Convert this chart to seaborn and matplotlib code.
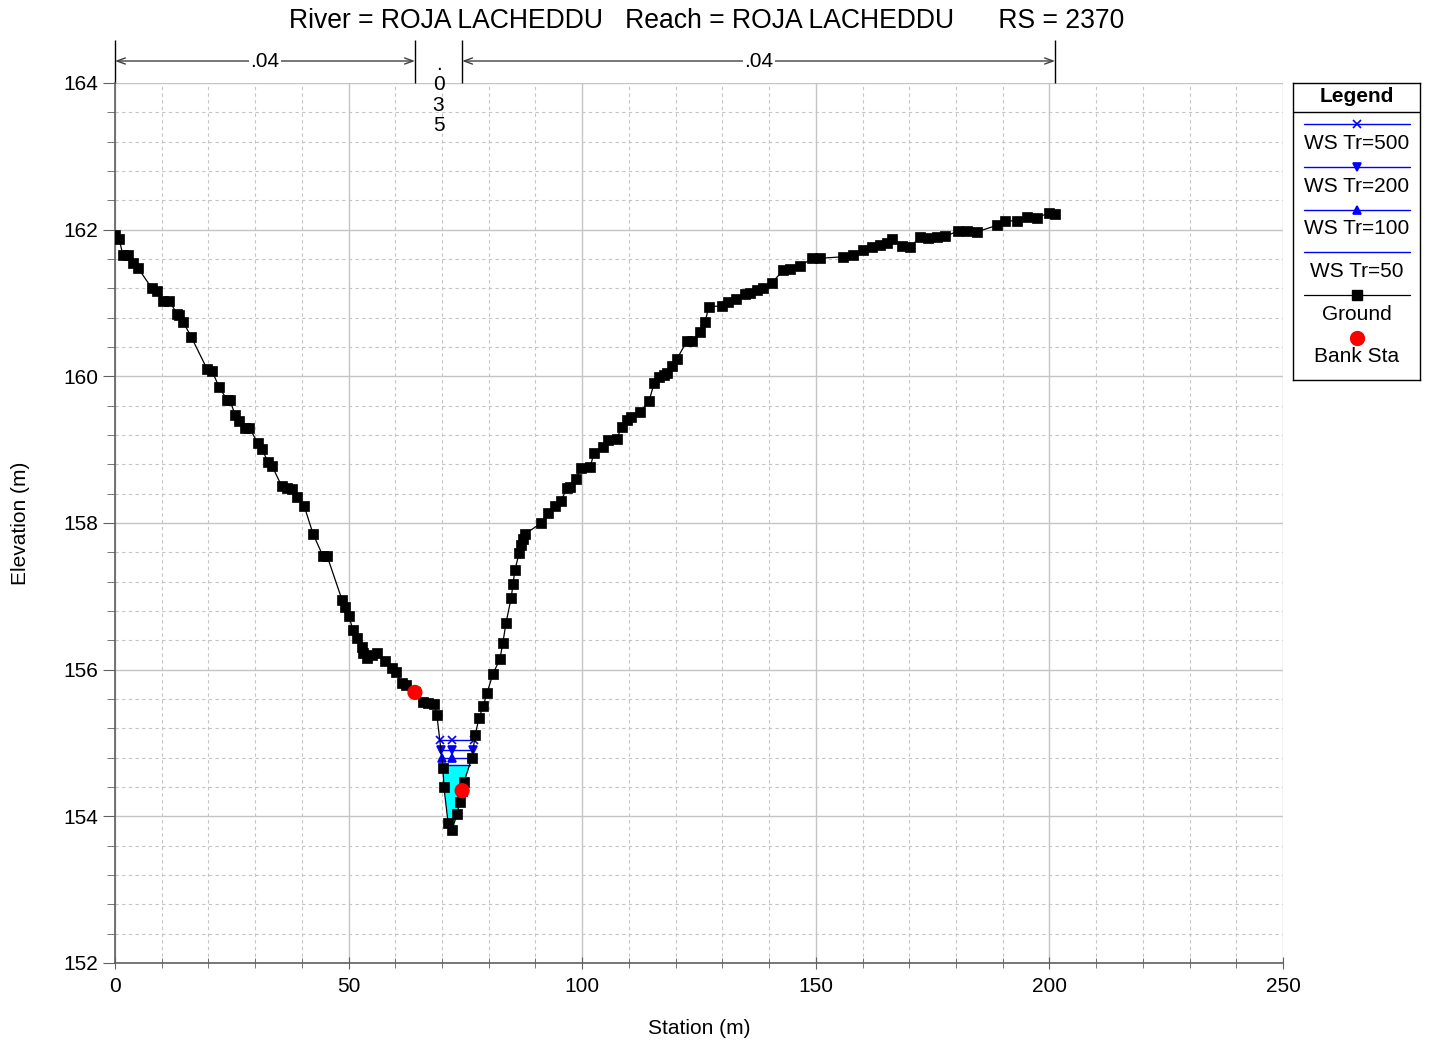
import numpy as np
import pandas as pd
import seaborn as sns
import matplotlib.pyplot as plt
from matplotlib.ticker import MultipleLocator

# ground profile
station = [0.0, 0.9, 1.7, 2.8, 3.9, 4.9, 7.9, 9.0, 10.3, 11.6, 13.3, 13.7, 14.6, 16.3,
           19.7, 20.8, 22.3, 24.0, 24.6, 25.7, 26.5, 27.8, 28.7, 30.6, 31.5, 32.7, 33.6,
           35.7, 36.8, 37.9, 39.0, 40.5, 42.4, 44.5, 45.4, 48.6, 49.2, 50.1, 50.9, 51.8,
           52.9, 53.1, 53.9, 55.0, 56.1, 57.8, 59.3, 60.1, 61.4, 62.3, 64.2, 65.9, 67.0,
           68.3, 68.9, 70.2, 70.4, 71.3, 72.1, 73.2, 73.8, 74.3, 74.7, 76.4, 77.1, 77.9,
           78.8, 79.6, 80.9, 82.4, 83.0, 83.7, 84.8, 85.2, 85.6, 86.5, 86.9, 87.3, 87.8,
           91.2, 92.7, 94.2, 95.5, 96.7, 97.4, 98.7, 99.7, 101.7, 102.5, 104.5, 105.5,
           107.4, 108.5, 109.6, 110.4, 112.4, 114.3, 115.4, 116.4, 117.5, 118.2, 119.2,
           120.3, 122.4, 123.5, 125.2, 126.3, 127.1, 129.9, 131.2, 132.9, 134.8, 135.9,
           137.4, 138.7, 140.6, 143.0, 144.5, 146.6, 149.2, 150.9, 155.8, 158.0, 160.1,
           162.0, 163.7, 165.2, 166.3, 168.5, 170.2, 172.3, 174.0, 175.9, 177.7, 180.4,
           182.4, 184.5, 188.8, 190.5, 193.1, 195.2, 197.3, 199.9, 201.2]
elevation = [161.93, 161.87, 161.65, 161.65, 161.55, 161.48, 161.20, 161.16, 161.03, 161.03,
             160.85, 160.84, 160.74, 160.54, 160.10, 160.07, 159.85, 159.68, 159.68, 159.47,
             159.39, 159.30, 159.30, 159.09, 159.01, 158.83, 158.78, 158.50, 158.48, 158.46,
             158.35, 158.23, 157.85, 157.55, 157.55, 156.95, 156.85, 156.73, 156.54, 156.43,
             156.31, 156.23, 156.16, 156.20, 156.23, 156.12, 156.02, 155.97, 155.82, 155.79,
             155.69, 155.56, 155.55, 155.53, 155.38, 154.66, 154.40, 153.91, 153.81, 154.03,
             154.19, 154.35, 154.47, 154.80, 155.11, 155.34, 155.50, 155.68, 155.94, 156.15,
             156.36, 156.64, 156.98, 157.17, 157.36, 157.59, 157.70, 157.78, 157.85, 158.00,
             158.14, 158.23, 158.30, 158.48, 158.49, 158.60, 158.75, 158.76, 158.95, 159.04,
             159.13, 159.15, 159.31, 159.40, 159.45, 159.51, 159.66, 159.91, 159.99, 160.02,
             160.05, 160.14, 160.24, 160.48, 160.48, 160.60, 160.74, 160.95, 160.96, 161.01,
             161.05, 161.12, 161.14, 161.18, 161.20, 161.27, 161.45, 161.46, 161.50, 161.61,
             161.61, 161.63, 161.65, 161.72, 161.76, 161.79, 161.82, 161.87, 161.78, 161.76,
             161.90, 161.89, 161.90, 161.91, 161.98, 161.98, 161.97, 162.06, 162.12, 162.12,
             162.17, 162.16, 162.23, 162.21]
bank_sta = [64.2, 74.3]
n_values = [".04", ".035", ".04"]
ws_names = ["WS Tr=500", "WS Tr=200", "WS Tr=100", "WS Tr=50"]
ws_elev = [155.04, 154.90, 154.80, 154.70]
ws_marker = ["x", "v", "^", None]

sns.set_style("white")
plt.rcParams['font.family'] = ['Liberation Sans', 'DejaVu Sans']
plt.rcParams['text.color'] = 'black'
plt.rcParams['axes.labelcolor'] = 'black'
plt.rcParams['xtick.labelcolor'] = 'black'
plt.rcParams['ytick.labelcolor'] = 'black'

df = pd.DataFrame({"Station": station, "Elevation": elevation})
st = np.array(station)
el = np.array(elevation)


def ws_extent(z):
    i0 = int(np.argmin(el))
    i = i0
    while el[i - 1] < z:
        i -= 1
    xl = np.interp(z, [el[i], el[i - 1]], [st[i], st[i - 1]])
    j = i0
    while el[j + 1] < z:
        j += 1
    xr = np.interp(z, [el[j], el[j + 1]], [st[j], st[j + 1]])
    return xl, st[i0], xr


W, H = 1431, 1042
fig = plt.figure(figsize=(W / 100, H / 100), dpi=100)
ax = fig.add_axes([115 / W, 1 - 963 / H, 1168 / W, 880 / H])

# water in the channel (lowest profile)
ax.fill_between(st, el, ws_elev[-1], where=el < ws_elev[-1], interpolate=True,
                color="#00ffff", lw=0, zorder=2)

for z, m in zip(ws_elev, ws_marker):
    xl, xm, xr = ws_extent(z)
    ax.plot([xl, xr], [z, z], color="blue", lw=1, zorder=3)
    if m:
        ax.plot([xl, xm, xr], [z, z, z], ls="none", marker=m, color="blue",
                ms=6, mew=1.2, zorder=4)

sns.lineplot(data=df, x="Station", y="Elevation", sort=False, estimator=None,
             color="black", lw=0.9, marker="s", markersize=6.5, mec="black",
             mew=0.5, ax=ax, zorder=5)

bank_df = pd.DataFrame({"Station": bank_sta, "Elevation": np.interp(bank_sta, st, el)})
sns.scatterplot(data=bank_df, x="Station", y="Elevation", color="red", s=120,
                edgecolor="none", ax=ax, zorder=6)

ax.set_xlim(0, 250)
ax.set_ylim(152, 164)
ax.xaxis.set_major_locator(MultipleLocator(50))
ax.xaxis.set_minor_locator(MultipleLocator(10))
ax.yaxis.set_major_locator(MultipleLocator(2))
ax.yaxis.set_minor_locator(MultipleLocator(0.4))
ax.grid(which="major", color="#c4c4c4", lw=1, ls="-")
ax.grid(which="minor", color="#c4c4c4", lw=0.8, ls=(0, (3, 3)))
ax.set_axisbelow(True)
for s in ["top", "right"]:
    ax.spines[s].set_visible(False)
for s in ["left", "bottom"]:
    ax.spines[s].set_color("#606060")
    ax.spines[s].set_linewidth(1.2)
ax.tick_params(axis="y", which="major", direction="out", length=9, color="#606060",
               labelsize=15, pad=3, left=True)
ax.tick_params(axis="y", which="minor", direction="out", length=6, color="#606060", left=True)
ax.tick_params(axis="x", which="major", direction="inout", length=8, color="#606060",
               labelsize=15, pad=6, bottom=True)
ax.tick_params(axis="x", which="minor", direction="inout", length=7, color="#606060", bottom=True)

ax.set_xlabel("Station (m)", fontsize=15)
ax.set_ylabel("Elevation (m)", fontsize=15)
ax.xaxis.set_label_coords(0.5, -0.064)
ax.yaxis.set_label_coords(-0.073, 0.5)

fig.text(707 / W, 1 - 21 / H,
         "River = ROJA LACHEDDU   Reach = ROJA LACHEDDU      RS = 2370",
         ha="center", va="center", fontsize=19.1)

# Manning's n regions above the plot
trans = ax.get_xaxis_transform()
bounds = [station[0], bank_sta[0], bank_sta[1], station[-1]]
ax.vlines(bounds, 1.0, 1.049, transform=trans, colors="black", lw=1, clip_on=False)
ya = 1.025
for k in [0, 2]:
    ax.annotate("", xy=(bounds[k], ya), xytext=(bounds[k + 1], ya), xycoords=trans,
                arrowprops=dict(arrowstyle="<->,head_length=0.6,head_width=0.22",
                                color="#404040", lw=1, shrinkA=0, shrinkB=0))
    ax.text((bounds[k] + bounds[k + 1]) / 2, ya, n_values[k], transform=trans,
            ha="center", va="center", fontsize=15,
            bbox=dict(facecolor="white", edgecolor="none", pad=1))
ax.text((bounds[1] + bounds[2]) / 2, 0.9866, "\n".join(n_values[1]), transform=trans,
        ha="center", va="center", fontsize=15, linespacing=1.1)

# legend box
lax = fig.add_axes([1293 / W, 1 - 380 / H, 127 / W, 297 / H])
lax.set_xlim(1293, 1420)
lax.set_ylim(380, 83)
lax.set_xticks([])
lax.set_yticks([])
for s in lax.spines.values():
    s.set_color("black")
    s.set_linewidth(1)
lax.text(1357, 96, "Legend", ha="center", va="center", fontsize=15, weight="bold")
lax.axhline(112, color="black", lw=1)
line_y = [124, 167, 210, 252, 295]
text_y = [143, 186, 228, 271, 314]
for k, name in enumerate(ws_names):
    lax.plot([1304, 1410], [line_y[k], line_y[k]], color="blue", lw=1)
    if ws_marker[k]:
        lax.plot([1357], [line_y[k]], marker=ws_marker[k], color="blue", ms=6, mew=1.2)
    lax.text(1357, text_y[k], name, ha="center", va="center", fontsize=15)
lax.plot([1304, 1410], [line_y[4], line_y[4]], color="black", lw=0.9)
lax.plot([1357], [line_y[4]], marker="s", color="black", ms=6.5)
lax.text(1357, text_y[4], "Ground", ha="center", va="center", fontsize=15)
lax.plot([1357], [338], marker="o", color="red", ms=11, mec="none")
lax.text(1357, 357, "Bank Sta", ha="center", va="center", fontsize=15)

fig.savefig("out.png", dpi=100)
